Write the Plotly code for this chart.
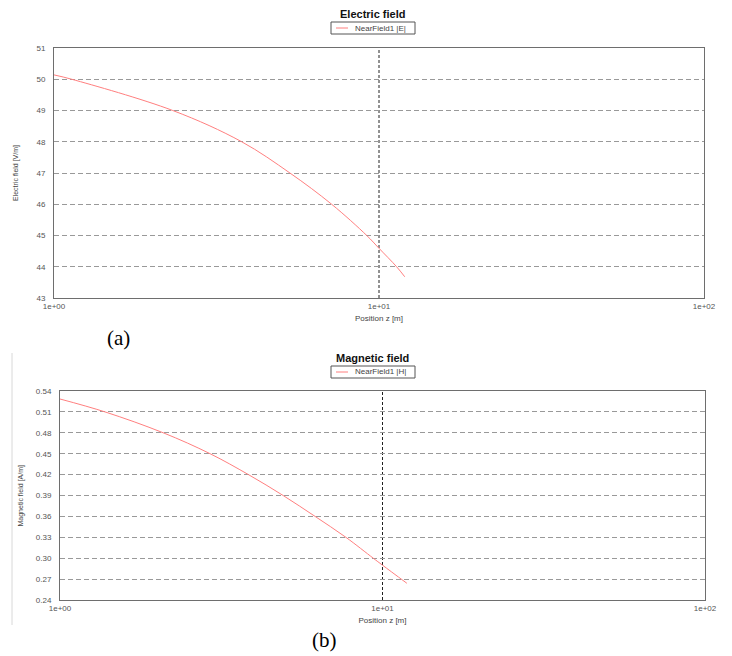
import plotly.graph_objects as go

W, H = 732, 656

# ---- data ----
e_z = [1.0, 1.134, 2.32, 3.78, 5.32, 7.15, 9.17, 10.0, 11.33, 12.0]
e_val = [50.14, 50.0, 49.0, 48.0, 47.0, 46.0, 45.0, 44.59, 44.0, 43.68]

h_z = [1.0, 1.379, 2.09, 2.92, 3.84, 4.92, 6.18, 7.70, 9.36, 10.0, 11.9]
h_val = [0.5285, 0.51, 0.48, 0.45, 0.42, 0.39, 0.36, 0.33, 0.30, 0.290, 0.264]

x_ticks = [1, 10, 100]
x_ticklabels = ["1e+00", "1e+01", "1e+02"]
e_ticks = [43, 44, 45, 46, 47, 48, 49, 50, 51]
h_ticks = [0.24, 0.27, 0.30, 0.33, 0.36, 0.39, 0.42, 0.45, 0.48, 0.51, 0.54]
h_ticklabels = ["%.2f" % v for v in h_ticks]

def px_x(x):
    return x / W

def px_y(y):
    return 1 - y / H

# plot areas in pixels
A = dict(l=54, r=704, t=48, b=298)
B = dict(l=60, r=705, t=391, b=600)

RED = "#ff7f7f"
AX = "#6e6e6e"
FONT = "Liberation Sans, Arial, sans-serif"
SERIF = "Liberation Serif, Times New Roman, serif"

fig = go.Figure()
fig.add_trace(go.Scatter(x=e_z, y=e_val, mode="lines", name="NearField1 |E|",
                         line=dict(color=RED, width=1, shape="spline"),
                         xaxis="x", yaxis="y", showlegend=False))
fig.add_trace(go.Scatter(x=h_z, y=h_val, mode="lines", name="NearField1 |H|",
                         line=dict(color=RED, width=1, shape="spline"),
                         xaxis="x2", yaxis="y2", showlegend=False))

common_x = dict(type="log", range=[0, 2], tickvals=x_ticks, ticktext=x_ticklabels,
                showgrid=False, zeroline=False, showline=True, linecolor=AX, linewidth=1,
                mirror=True, ticks="", automargin=False,
                tickfont=dict(size=8, color="#555", family=FONT),
                title=dict(text="Position z [m]", font=dict(size=8, color="#444", family=FONT),
                           standoff=5))
common_y = dict(showgrid=True, gridcolor="#999999", griddash="5px,3px", gridwidth=1,
                zeroline=False, showline=True, linecolor=AX, linewidth=1, mirror=True,
                ticks="", automargin=False, tickfont=dict(size=8, color="#555", family=FONT),
                ticklabelstandoff=6)

fig.update_layout(
    template="none",
    width=W, height=H, margin=dict(l=0, r=0, t=0, b=0),
    paper_bgcolor="white", plot_bgcolor="white", showlegend=False,
    font=dict(family=FONT),
    xaxis=dict(domain=[px_x(A["l"]), px_x(A["r"])], anchor="y", **common_x),
    yaxis=dict(domain=[px_y(A["b"]), px_y(A["t"])], anchor="x", range=[43, 51],
               tickvals=e_ticks, **common_y),
    xaxis2=dict(domain=[px_x(B["l"]), px_x(B["r"])], anchor="y2", **common_x),
    yaxis2=dict(domain=[px_y(B["b"]), px_y(B["t"])], anchor="x2", range=[0.24, 0.54],
                tickvals=h_ticks, ticktext=h_ticklabels, **common_y),
)

# vertical dashed reference line at z = 10
for xr, yr in (("x", "y domain"), ("x2", "y2 domain")):
    fig.add_shape(type="line", xref=xr, yref=yr, x0=10, x1=10, y0=0, y1=1,
                  line=dict(color="#222", width=1, dash="3px,2px"), layer="below")

# faint frame edge of the lower screenshot
fig.add_shape(type="line", xref="paper", yref="paper", x0=px_x(12), x1=px_x(12),
              y0=px_y(625), y1=px_y(353), line=dict(color="#d8d8d8", width=1))

def label(text, x, y, size, family=FONT, color="#444", angle=0, xanchor="center"):
    fig.add_annotation(text=text, x=px_x(x), y=px_y(y), xref="paper", yref="paper",
                       xanchor=xanchor, yanchor="middle", showarrow=False, textangle=angle,
                       font=dict(size=size, color=color, family=family))

# y-axis titles
label("Electric field [V/m]", 16, (A["t"] + A["b"]) / 2, 7, angle=-90)
label("Magnetic field [A/m]", 20, (B["t"] + B["b"]) / 2, 7, angle=-90)

# titles and hand-drawn legends
def header(title, text, title_y, box_top):
    label("<b>%s</b>" % title, 373, title_y, 11, color="#111")
    fig.add_shape(type="rect", xref="paper", yref="paper",
                  x0=px_x(331), x1=px_x(415), y0=px_y(box_top + 12), y1=px_y(box_top),
                  line=dict(color="#555", width=1), fillcolor="white")
    fig.add_shape(type="line", xref="paper", yref="paper",
                  x0=px_x(336), x1=px_x(348), y0=px_y(box_top + 6), y1=px_y(box_top + 6),
                  line=dict(color=RED, width=1))
    label(text, 353, box_top + 6, 8, xanchor="left")

header("Electric field", "NearField1 |E|", 14, 22)
header("Magnetic field", "NearField1 |H|", 358, 366)

label("(a)", 118, 338, 21, family=SERIF, color="#000")
label("(b)", 324, 640, 21, family=SERIF, color="#000")

fig.write_html("out.html", config={"displayModeBar": False},
               post_script="document.body.style.margin='0';document.body.style.padding='0';")
